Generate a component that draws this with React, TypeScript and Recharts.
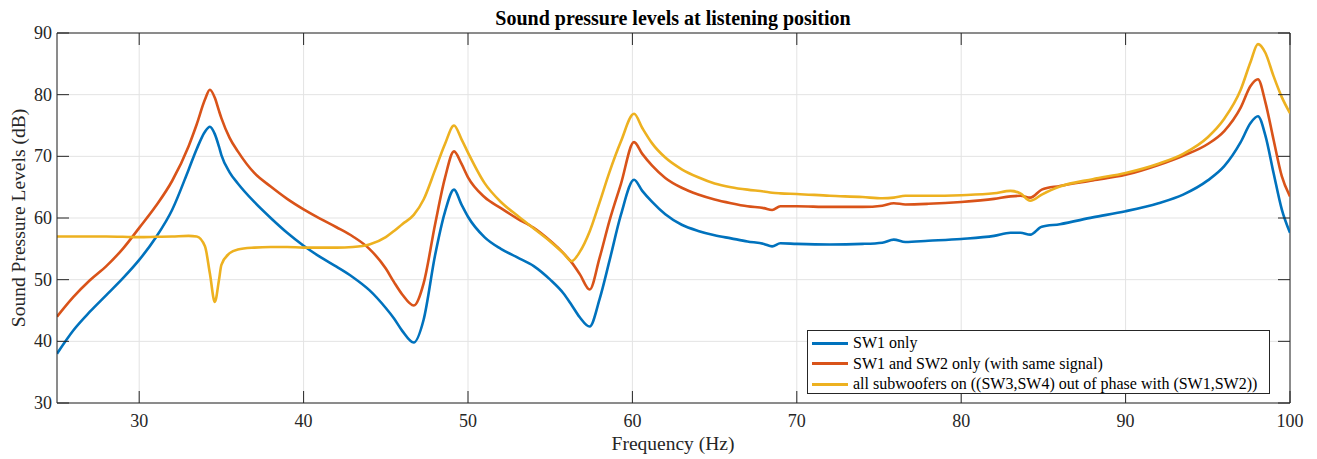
import React from 'react'
import { LineChart, Line, XAxis, YAxis, CartesianGrid, ReferenceLine, Legend } from 'recharts'

// frequency grid (Hz), denser around the resonances
const FREQ = [
  25, 26, 27, 28, 29, 30, 31, 32, 33,
  33.5, 34, 34.3, 34.6, 34.85, 35, 35.5, 36,
  37, 38, 39, 40, 41, 42, 43, 44, 45,
  45.5, 46, 46.7, 47.3, 48, 48.6, 49.15, 49.6, 50,
  51, 52, 53, 54, 55, 55.8, 56.3, 56.8, 57.4,
  58, 58.6, 59.3, 60.1, 60.6, 61.2, 62, 63, 64,
  65, 66, 67, 68, 68.5, 69, 70, 72, 74,
  75.2, 75.9, 76.6, 78, 80, 82, 83, 83.6, 84.2,
  84.9, 86, 88, 90, 92, 93.5, 95, 96, 97,
  97.6, 98.05, 98.5, 99, 99.5, 100,
]

const SW1_ONLY = [
  38.0, 41.8, 44.8, 47.5, 50.2, 53.2, 56.8, 61.3, 67.8,
  71.2, 74.0, 74.8, 73.6, 71.6, 70.2, 67.4, 65.6,
  62.6, 60.0, 57.6, 55.5, 53.7, 52.1, 50.4, 48.3, 45.4,
  43.7, 41.7, 39.8, 43.5, 54.0, 61.0, 64.6, 62.2, 60.2,
  56.9, 55.0, 53.6, 52.2, 50.0, 47.8, 45.9, 43.9, 42.4,
  46.8, 53.0, 60.5, 66.2, 64.4, 62.6, 60.6, 58.9, 57.9,
  57.2, 56.7, 56.2, 55.8, 55.4, 55.9, 55.8, 55.7, 55.8,
  56.0, 56.5, 56.1, 56.3, 56.6, 57.1, 57.6, 57.6, 57.3,
  58.6, 59.0, 60.1, 61.1, 62.4, 63.8, 66.1, 68.4, 72.3,
  75.4, 76.5, 73.4, 67.3, 61.4, 57.6,
]

const SW1_SW2 = [
  44.0, 47.2, 49.9, 52.2, 55.0, 58.4, 61.9, 66.0, 71.6,
  75.2, 79.2, 80.8, 79.5, 77.4, 76.2, 73.0, 70.8,
  67.3, 65.1, 63.1, 61.4, 59.9, 58.5, 57.0, 55.0, 51.8,
  49.6, 47.6, 45.8, 49.4, 59.0, 66.5, 70.8, 68.8, 66.6,
  63.4, 61.6, 59.9, 58.4, 56.3, 54.3, 52.8, 50.9, 48.4,
  53.5, 59.5, 65.5, 72.3, 70.4, 68.5, 66.5, 64.9, 63.8,
  63.0, 62.4, 61.9, 61.6, 61.3, 61.9, 61.9, 61.8, 61.8,
  62.0, 62.4, 62.2, 62.3, 62.6, 63.1, 63.5, 63.6, 63.3,
  64.6, 65.2, 66.1, 67.0, 68.6, 70.1, 72.0, 74.1, 77.9,
  81.4, 82.5, 78.8, 72.7, 66.8, 63.5,
]

const ALL_SUBS = [
  57.0, 57.0, 57.0, 57.0, 56.95, 56.9, 56.95, 57.0, 57.1,
  57.0, 55.4, 51.0, 46.4, 49.9, 52.4, 54.3, 54.9,
  55.2, 55.3, 55.3, 55.2, 55.2, 55.2, 55.3, 55.7, 56.9,
  57.9, 59.0, 60.5, 63.0, 67.8, 72.0, 75.0, 72.8, 70.6,
  65.7, 62.6, 60.4, 58.3, 56.2, 54.3, 53.0, 54.5, 57.8,
  62.5, 67.4, 72.4, 76.9, 74.6, 72.1, 69.8, 67.9, 66.6,
  65.6, 65.0, 64.6, 64.3, 64.1, 64.0, 63.9, 63.6, 63.4,
  63.2, 63.3, 63.6, 63.6, 63.7, 64.0, 64.4, 64.0, 62.8,
  63.8, 65.1, 66.3, 67.3, 68.8, 70.4, 73.1, 76.1, 80.8,
  85.3, 88.2, 86.8, 83.0, 79.6, 77.0,
]

const X_TICKS = [30, 40, 50, 60, 70, 80, 90, 100]
const Y_TICKS = [30, 40, 50, 60, 70, 80, 90]

const SERIES = [
  { key: 'sw1', name: 'SW1 only', color: '#0072BD' },
  { key: 'sw12', name: 'SW1 and SW2 only (with same signal)', color: '#D95319' },
  { key: 'all', name: 'all subwoofers on ((SW3,SW4) out of phase with (SW1,SW2))', color: '#EDB120' },
]

const data = FREQ.map((f, i) => ({ f, sw1: SW1_ONLY[i], sw12: SW1_SW2[i], all: ALL_SUBS[i] }))

const W = 1317
const H = 459
const PLOT_W = 1233
const PLOT_H = 370
const FONT = '"Liberation Serif", "Times New Roman", serif'
const AXIS = '#262626'
const TICK_LEN = 12

function XTick({ x, y, payload }: any) {
  return (
    <g>
      <line x1={x} y1={y} x2={x} y2={y - TICK_LEN} stroke={AXIS} />
      <line x1={x} y1={y - PLOT_H} x2={x} y2={y - PLOT_H + TICK_LEN} stroke={AXIS} />
      <text x={x} y={y + 24} textAnchor="middle" fontSize={18} fontFamily={FONT} fill={AXIS}>
        {payload.value}
      </text>
    </g>
  )
}

function YTick({ x, y, payload }: any) {
  return (
    <g>
      <line x1={x} y1={y} x2={x + TICK_LEN} y2={y} stroke={AXIS} />
      <line x1={x + PLOT_W} y1={y} x2={x + PLOT_W - TICK_LEN} y2={y} stroke={AXIS} />
      <text x={x - 5} y={y + 6} textAnchor="end" fontSize={18} fontFamily={FONT} fill={AXIS}>
        {payload.value}
      </text>
    </g>
  )
}

// legend keeps the plotting order (recharts would sort it by name)
function LegendBox() {
  return (
    <div style={{ border: '1px solid #262626', background: '#fff', padding: '2px 0', boxSizing: 'border-box', width: '100%', height: '100%' }}>
      {SERIES.map(s => (
        <div key={s.key} style={{ display: 'flex', alignItems: 'center', height: 20.6, fontFamily: FONT, fontSize: 16, color: '#000' }}>
          <span style={{ display: 'inline-block', width: 36, height: 3, background: s.color, marginLeft: 4, marginRight: 5 }} />
          <span style={{ whiteSpace: 'nowrap', fontFamily: FONT }}>{s.name}</span>
        </div>
      ))}
    </div>
  )
}

export default function App() {
  return (
    <div style={{ position: 'absolute', left: 0, top: 0, width: W, height: H, background: '#fff' }}>
      <LineChart width={W} height={H} data={data} margin={{ top: 33, right: 27, bottom: 0, left: 0 }}>
        <CartesianGrid stroke="#e3e3e3" strokeWidth={1} />
        <XAxis
          dataKey="f" type="number" domain={[25, 100]} ticks={X_TICKS} interval={0}
          allowDataOverflow height={56} tickSize={0} tickMargin={0} tickLine={false}
          axisLine={{ stroke: AXIS }} tick={<XTick />}
        />
        <YAxis
          type="number" domain={[30, 90]} ticks={Y_TICKS} interval={0}
          allowDataOverflow width={57} tickSize={0} tickMargin={0} tickLine={false}
          axisLine={{ stroke: AXIS }} tick={<YTick />}
        />
        <ReferenceLine y={90} stroke={AXIS} />
        <ReferenceLine x={100} stroke={AXIS} />
        {SERIES.map(s => (
          <Line
            key={s.key} dataKey={s.key} name={s.name} stroke={s.color} strokeWidth={2.6}
            type="monotone" dot={false} activeDot={false} isAnimationActive={false}
          />
        ))}
        <Legend
          layout="horizontal" verticalAlign="middle" content={<LegendBox />}
          wrapperStyle={{ position: 'absolute', left: 807, top: 330, width: 463, height: 64 }}
        />
      </LineChart>
      <svg width={W} height={H} style={{ position: 'absolute', left: 0, top: 0, pointerEvents: 'none' }}>
        <text x={673} y={25} textAnchor="middle" fontSize={20} fontWeight="bold" fontFamily={FONT} fill="#000">
          Sound pressure levels at listening position
        </text>
        <text x={673} y={450} textAnchor="middle" fontSize={19.5} fontFamily={FONT} fill={AXIS}>
          Frequency (Hz)
        </text>
        <text
          x={0} y={0} transform="translate(25, 218) rotate(-90)" textAnchor="middle"
          fontSize={19.5} fontFamily={FONT} fill={AXIS}
        >
          Sound Pressure Levels (dB)
        </text>
      </svg>
    </div>
  )
}
